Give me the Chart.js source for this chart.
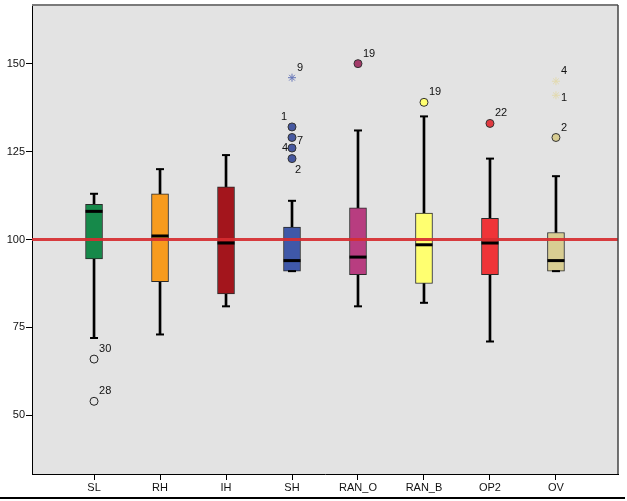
<!DOCTYPE html>
<html>
<head>
<meta charset="utf-8">
<script src="https://cdn.jsdelivr.net/npm/chart.js@4"></script>
<style>
  html,body{margin:0;padding:0;background:#fff;}
  #wrap{width:627px;height:501px;position:relative;}
</style>
</head>
<body>
<div id="wrap"><canvas id="c" width="627" height="501"></canvas></div>
<script>
// ---- data ----
const categories   = ['SL','RH','IH','SH','RAN_O','RAN_B','OP2','OV'];
const whiskerLow   = [72, 73, 81, 91, 81, 82, 71, 91];
const q1           = [94.5, 88, 84.5, 91, 90, 87.5, 90, 91];
const median       = [108, 101, 99, 94, 95, 98.5, 99, 94];
const q3           = [110, 113, 115, 103.5, 109, 107.5, 106, 102];
const whiskerHigh  = [113, 120, 124, 111, 131, 135, 123, 118];

const outlierCat   = [0, 0, 3, 3, 3, 3, 4, 5, 6, 7];
const outlierValue = [66, 54, 132, 129, 126, 123, 150, 139, 133, 129];
const outlierId    = ['30','28','1','7','4','2','19','19','22','2'];
const outlierSide  = ['ur','ur','ul','r','l','dr','ur','ur','ur','ur'];

const extremeCat   = [3, 7, 7];
const extremeValue = [146, 145, 141];
const extremeId    = ['9','4','1'];
const extremeSide  = ['ur','ur','r'];

const referenceValue = 100;
const yTicks = [50, 75, 100, 125, 150];

// ---- styles ----
const boxColors = ['#16894a','#f79b1e','#a3151c','#3f58a8','#b83d80','#ffff70','#ef3438','#d8cd92'];
const outlierFill = ['rgba(0,0,0,0)','#4658a0','#a33a69','#ffff70','#e03a40','#d8cd92'];
const catOutlierFillIdx = {0:0, 3:1, 4:2, 5:3, 6:4, 7:5};
const extremeColors = {3:'#6676b8', 7:'#e2dab0'};

const FONT = "'Liberation Sans', Arial, sans-serif";

const stemData = [];
categories.forEach((c,i)=>{
  stemData.push({x:i, y:[whiskerLow[i], q1[i]]});
  stemData.push({x:i, y:[q3[i], whiskerHigh[i]]});
});
const capData = [];
categories.forEach((c,i)=>{
  capData.push({x:i, y:whiskerLow[i]});
  capData.push({x:i, y:whiskerHigh[i]});
});

const labelPlugin = {
  id:'labels',
  beforeDraw(chart){
    const {ctx, chartArea:a} = chart;
    ctx.save();
    ctx.fillStyle = '#e3e3e3';
    ctx.fillRect(a.left, a.top, a.right-a.left, a.bottom-a.top);
    ctx.restore();
  },
  afterDatasetsDraw(chart){
    const {ctx, chartArea:a} = chart;
    ctx.save();
    ctx.strokeStyle = '#7a7a7a';
    ctx.lineWidth = 2;
    ctx.beginPath();
    ctx.moveTo(a.left, a.top); ctx.lineTo(a.right, a.top);
    ctx.stroke();
    ctx.strokeStyle = '#444';
    ctx.lineWidth = 1.5;
    ctx.beginPath();
    ctx.moveTo(a.right, a.top); ctx.lineTo(a.right, a.bottom);
    ctx.stroke();
    ctx.font = '11px ' + FONT;
    ctx.fillStyle = '#111';
    ctx.textBaseline = 'middle';
    chart.data.datasets.forEach((ds, di)=>{
      if(!ds.pointIds) return;
      const meta = chart.getDatasetMeta(di);
      meta.data.forEach((el, k)=>{
        const side = ds.pointSides[k];
        let dx=5, dy=-10, align='left';
        if(side==='ul'){dx=-5; dy=-10; align='right';}
        else if(side==='r'){dx=5; dy=3; align='left';}
        else if(side==='l'){dx=-4; dy=0; align='right';}
        else if(side==='dr'){dx=3; dy=11; align='left';}
        ctx.textAlign = align;
        ctx.fillText(ds.pointIds[k], el.x+dx, el.y+dy);
      });
    });
    ctx.restore();
  },
  afterDraw(chart){
    const ctx = chart.ctx;
    ctx.save();
    ctx.strokeStyle = '#000';
    ctx.lineWidth = 2;
    ctx.beginPath();
    ctx.moveTo(0, 498); ctx.lineTo(625, 498);
    ctx.stroke();
    ctx.restore();
  }
};

new Chart(document.getElementById('c'), {
  data: {
    datasets: [
      { type:'bar', label:'stems', data: stemData, backgroundColor:'#000', borderWidth:0,
        barThickness:2, grouped:false, order:5 },
      { type:'bar', label:'boxes', data: categories.map((c,i)=>({x:i, y:[q1[i], q3[i]]})),
        backgroundColor: boxColors, borderColor:'#2a2a2a', borderWidth:1, borderSkipped:false,
        barThickness:17, grouped:false, order:4 },
      { type:'scatter', label:'caps', data: capData, pointStyle:'line', radius:4,
        borderColor:'#000', borderWidth:2, order:3 },
      { type:'scatter', label:'medians', data: categories.map((c,i)=>({x:i, y:median[i]})),
        pointStyle:'line', radius:8.5, borderColor:'#000', borderWidth:3, order:2 },
      { type:'line', label:'reference', data:[{x:-0.94, y:referenceValue},{x:7.94, y:referenceValue}],
        borderColor:'rgba(214,44,48,0.92)', borderWidth:3, pointRadius:0, order:1 },
      { type:'scatter', label:'outliers', data: outlierCat.map((c,k)=>({x:c, y:outlierValue[k]})),
        pointStyle:'circle', radius:4,
        backgroundColor: outlierCat.map(c=>outlierFill[catOutlierFillIdx[c]]),
        borderColor: outlierCat.map(c=> c===0 ? '#222' : '#333'), borderWidth:1,
        pointIds: outlierId, pointSides: outlierSide, order:0 },
      { type:'scatter', label:'extremes', data: extremeCat.map((c,k)=>({x:c, y:extremeValue[k]})),
        pointStyle:'star', radius:4, borderWidth:1,
        borderColor: extremeCat.map(c=>extremeColors[c]),
        pointIds: extremeId, pointSides: extremeSide, order:0 }
    ]
  },
  options: {
    responsive:false,
    animation:false,
    layout:{ autoPadding:false, padding:{ top:5, right:9, left:0, bottom:0 } },
    plugins:{ legend:{display:false}, tooltip:{enabled:false} },
    scales:{
      x:{
        type:'linear', min:-0.94, max:7.94, offset:false,
        afterBuildTicks(ax){ ax.ticks = categories.map((c,i)=>({value:i})); },
        afterFit(ax){ ax.height = 27; ax.paddingLeft = 0; ax.paddingRight = 0; },
        ticks:{ callback:(v)=>categories[v], color:'#111', font:{size:11, family:FONT}, padding:1, autoSkip:false, maxRotation:0 },
        grid:{ offset:false, drawOnChartArea:false, drawTicks:true, tickLength:6, color:'#000', tickWidth:1 },
        border:{ color:'#000', width:1 }
      },
      y:{
        type:'linear', min:33.33, max:166.67,
        afterBuildTicks(ax){ ax.ticks = yTicks.map(v=>({value:v})); },
        afterFit(ax){ ax.width = 32; ax.paddingTop = 0; ax.paddingBottom = 0; },
        ticks:{ color:'#111', font:{size:11, family:FONT}, padding:1 },
        grid:{ drawOnChartArea:false, drawTicks:true, tickLength:6, color:'#000', tickWidth:1 },
        border:{ color:'#000', width:1 }
      }
    }
  },
  plugins:[labelPlugin]
});
</script>
</body>
</html>
